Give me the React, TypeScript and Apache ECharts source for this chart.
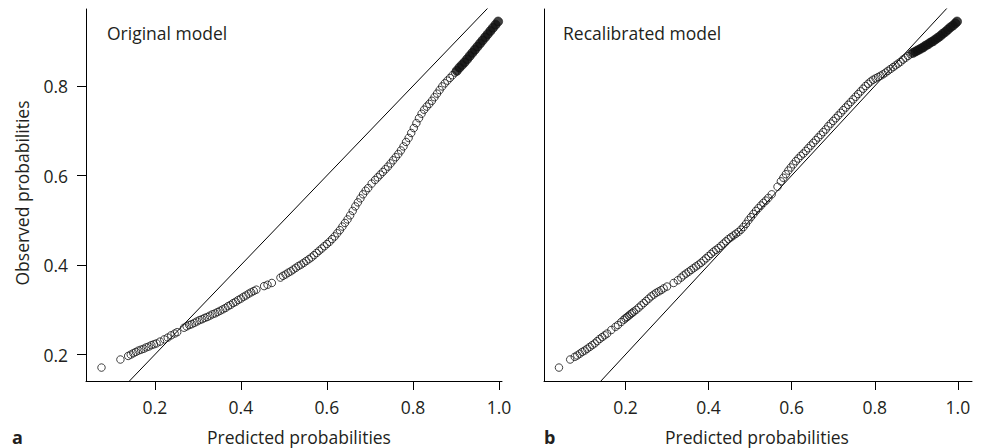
import React, { useEffect, useRef } from "react";
import * as echarts from "echarts";

// ---- data ----
const xTicks = [0.2, 0.4, 0.6, 0.8, 1.0];
const yTicks = [0.2, 0.4, 0.6, 0.8];
const diagonal = [[0.0, 0.0], [1.1, 1.1]];

const originalOpen: number[][] = [
  [0.076, 0.171], [0.120, 0.189], [0.138, 0.197], [0.144, 0.200], [0.150, 0.203], [0.156, 0.206],
  [0.162, 0.209], [0.168, 0.211], [0.174, 0.213], [0.180, 0.216], [0.186, 0.218], [0.192, 0.221],
  [0.198, 0.223], [0.204, 0.225], [0.212, 0.229], [0.222, 0.234], [0.230, 0.238], [0.238, 0.243],
  [0.246, 0.247], [0.252, 0.250], [0.268, 0.260], [0.274, 0.263], [0.280, 0.266], [0.286, 0.268],
  [0.292, 0.271], [0.298, 0.274], [0.304, 0.277], [0.310, 0.279], [0.316, 0.282], [0.322, 0.284],
  [0.328, 0.287], [0.334, 0.290], [0.340, 0.292], [0.346, 0.295], [0.352, 0.298], [0.358, 0.301],
  [0.364, 0.304], [0.370, 0.308], [0.376, 0.311], [0.382, 0.315], [0.388, 0.318], [0.394, 0.322],
  [0.400, 0.325], [0.406, 0.329], [0.412, 0.332], [0.418, 0.336], [0.424, 0.339], [0.430, 0.342],
  [0.436, 0.345], [0.454, 0.353], [0.462, 0.356], [0.472, 0.360], [0.492, 0.372], [0.498, 0.376],
  [0.504, 0.379], [0.510, 0.383], [0.516, 0.386], [0.522, 0.390], [0.528, 0.394], [0.534, 0.398],
  [0.540, 0.401], [0.546, 0.405], [0.552, 0.409], [0.558, 0.413], [0.564, 0.417], [0.570, 0.422],
  [0.576, 0.427], [0.582, 0.432], [0.588, 0.437], [0.594, 0.442], [0.600, 0.447], [0.606, 0.452],
  [0.612, 0.458], [0.618, 0.464], [0.624, 0.471], [0.630, 0.478], [0.636, 0.486], [0.642, 0.494],
  [0.648, 0.502], [0.654, 0.511], [0.660, 0.521], [0.666, 0.531], [0.672, 0.540], [0.678, 0.549],
  [0.684, 0.558], [0.690, 0.566], [0.696, 0.572], [0.704, 0.582], [0.712, 0.590], [0.718, 0.596],
  [0.724, 0.602], [0.730, 0.608], [0.736, 0.614], [0.742, 0.620], [0.748, 0.627], [0.754, 0.634],
  [0.760, 0.641], [0.766, 0.648], [0.772, 0.656], [0.778, 0.665], [0.784, 0.675], [0.790, 0.684],
  [0.796, 0.695], [0.802, 0.706], [0.808, 0.717], [0.814, 0.728], [0.820, 0.738], [0.826, 0.747],
  [0.832, 0.754], [0.838, 0.760], [0.844, 0.767], [0.850, 0.775], [0.856, 0.783], [0.862, 0.791],
  [0.868, 0.799], [0.874, 0.806], [0.880, 0.812], [0.886, 0.818], [0.892, 0.824], [0.898, 0.830],
];

const originalFilled: number[][] = [
  [0.902, 0.834], [0.908, 0.841], [0.914, 0.847], [0.920, 0.853], [0.926, 0.860], [0.932, 0.867],
  [0.938, 0.874], [0.944, 0.881], [0.950, 0.888], [0.956, 0.895], [0.962, 0.902], [0.968, 0.909],
  [0.974, 0.916], [0.980, 0.923], [0.986, 0.930], [0.992, 0.937], [0.998, 0.944],
];

const recalOpen: number[][] = [
  [0.040, 0.171], [0.067, 0.189], [0.078, 0.195], [0.084, 0.198], [0.090, 0.202], [0.096, 0.206],
  [0.102, 0.209], [0.108, 0.213], [0.114, 0.217], [0.120, 0.221], [0.126, 0.225], [0.132, 0.230],
  [0.138, 0.235], [0.144, 0.239], [0.150, 0.243], [0.156, 0.247], [0.166, 0.255], [0.176, 0.262],
  [0.182, 0.266], [0.190, 0.273], [0.196, 0.278], [0.200, 0.281], [0.204, 0.284], [0.208, 0.287],
  [0.212, 0.290], [0.216, 0.293], [0.220, 0.296], [0.226, 0.300], [0.232, 0.305], [0.238, 0.310],
  [0.244, 0.315], [0.250, 0.320], [0.256, 0.325], [0.262, 0.330], [0.268, 0.334], [0.274, 0.338],
  [0.280, 0.341], [0.286, 0.344], [0.292, 0.348], [0.300, 0.352], [0.316, 0.360], [0.326, 0.366],
  [0.334, 0.372], [0.340, 0.377], [0.346, 0.381], [0.352, 0.385], [0.358, 0.389], [0.364, 0.393],
  [0.370, 0.397], [0.376, 0.401], [0.382, 0.405], [0.388, 0.410], [0.394, 0.415], [0.400, 0.420],
  [0.406, 0.425], [0.412, 0.430], [0.418, 0.434], [0.424, 0.438], [0.430, 0.443], [0.436, 0.448],
  [0.442, 0.453], [0.448, 0.458], [0.454, 0.462], [0.460, 0.466], [0.466, 0.470], [0.472, 0.474],
  [0.478, 0.479], [0.484, 0.485], [0.490, 0.492], [0.496, 0.500], [0.502, 0.507], [0.508, 0.514],
  [0.514, 0.521], [0.520, 0.527], [0.526, 0.533], [0.532, 0.539], [0.538, 0.544], [0.544, 0.550],
  [0.552, 0.558], [0.566, 0.575], [0.574, 0.587], [0.580, 0.595], [0.586, 0.603], [0.592, 0.611],
  [0.598, 0.618], [0.604, 0.625], [0.610, 0.632], [0.616, 0.638], [0.622, 0.644], [0.628, 0.649],
  [0.634, 0.655], [0.640, 0.661], [0.646, 0.667], [0.652, 0.673], [0.658, 0.679], [0.664, 0.685],
  [0.670, 0.691], [0.676, 0.697], [0.682, 0.703], [0.688, 0.710], [0.694, 0.716], [0.700, 0.722],
  [0.706, 0.728], [0.712, 0.734], [0.718, 0.740], [0.724, 0.746], [0.730, 0.752], [0.736, 0.758],
  [0.742, 0.764], [0.748, 0.770], [0.754, 0.776], [0.760, 0.782], [0.766, 0.788], [0.772, 0.794],
  [0.778, 0.800], [0.784, 0.805], [0.790, 0.810], [0.796, 0.814], [0.802, 0.817], [0.808, 0.820],
  [0.814, 0.823], [0.820, 0.826], [0.826, 0.830], [0.832, 0.834], [0.838, 0.838], [0.844, 0.842],
  [0.850, 0.846], [0.856, 0.850], [0.862, 0.854], [0.868, 0.859], [0.874, 0.863], [0.880, 0.867],
  [0.886, 0.871],
];

const recalFilled: number[][] = [
  [0.892, 0.874], [0.898, 0.877], [0.904, 0.880], [0.910, 0.883], [0.916, 0.886], [0.922, 0.890],
  [0.928, 0.893], [0.934, 0.897], [0.940, 0.900], [0.946, 0.904], [0.952, 0.908], [0.958, 0.912],
  [0.964, 0.917], [0.970, 0.921], [0.976, 0.926], [0.982, 0.931], [0.988, 0.935], [0.994, 0.940],
  [0.998, 0.944],
];

const panelTitles = ["Original model", "Recalibrated model"];
const panelLetters = ["a", "b"];
const xTitle = "Predicted probabilities";
const yTitle = "Observed probabilities";

const FONT = '"Open Sans", "Noto Sans", sans-serif';
const TXT = "#231f20";
const FS = 17.5;

export default function App() {
  const ref = useRef<HTMLDivElement>(null);
  useEffect(() => {
    if (!ref.current) return;
    const chart = echarts.init(ref.current, undefined, { renderer: "svg" });

    const xAxisBase = (gridIndex: number, min: number, max: number) => ({
      gridIndex,
      type: "value",
      min,
      max,
      axisLine: { show: true, onZero: false, lineStyle: { color: "#000", width: 1 } },
      axisTick: { show: true, customValues: xTicks, length: 9, inside: false, lineStyle: { color: "#000", width: 1 } },
      axisLabel: {
        show: true,
        customValues: xTicks,
        formatter: (v: number) => v.toFixed(1),
        margin: 17,
        fontSize: FS,
        fontFamily: FONT,
        color: TXT,
      },
      splitLine: { show: false },
    });

    const scatterOpen = (idx: number, data: number[][]) => ({
      type: "scatter",
      xAxisIndex: idx,
      yAxisIndex: idx,
      data,
      symbol: "circle",
      symbolSize: 7.5,
      itemStyle: { color: "rgba(0,0,0,0)", borderColor: "#111", borderWidth: 1 },
      silent: true,
      z: 3,
    });
    const scatterFilled = (idx: number, data: number[][]) => ({
      type: "scatter",
      xAxisIndex: idx,
      yAxisIndex: idx,
      data,
      symbol: "circle",
      symbolSize: 9,
      itemStyle: { color: "#111", borderColor: "#111", borderWidth: 0.8 },
      silent: true,
      z: 3,
    });
    const diag = (idx: number) => ({
      type: "line",
      xAxisIndex: idx,
      yAxisIndex: idx,
      data: diagonal,
      symbol: "none",
      clip: true,
      lineStyle: { color: "#000", width: 1 },
      silent: true,
      z: 2,
    });

    const txt = (x: number, y: number, text: string, align: string, extra: any = {}) => ({
      type: "text",
      x,
      y,
      ...extra,
      style: { text, fontSize: FS, fontFamily: FONT, fill: TXT, align, verticalAlign: "middle", ...(extra.style || {}) },
    });

    chart.setOption({
      animation: false,
      backgroundColor: "#fff",
      grid: [
        { left: 86, right: 482, top: 9, bottom: 67, containLabel: false, outerBoundsMode: "none" },
        { left: 544, right: 12, top: 9, bottom: 67, containLabel: false, outerBoundsMode: "none" },
      ],
      xAxis: [xAxisBase(0, 0.04, 1.007), xAxisBase(1, 0.004, 1.034)],
      yAxis: [
        {
          gridIndex: 0,
          type: "value",
          min: 0.141,
          max: 0.972,
          axisLine: { show: true, onZero: false, lineStyle: { color: "#000", width: 1 } },
          axisTick: { show: true, customValues: yTicks, length: 9, inside: false, lineStyle: { color: "#000", width: 1 } },
          axisLabel: {
            show: true,
            customValues: yTicks,
            formatter: (v: number) => v.toFixed(1),
            margin: 18,
            fontSize: FS,
            fontFamily: FONT,
            color: TXT,
          },
          splitLine: { show: false },
        },
        {
          gridIndex: 1,
          type: "value",
          min: 0.141,
          max: 0.972,
          axisLine: { show: true, onZero: false, lineStyle: { color: "#000", width: 1 } },
          axisTick: { show: false },
          axisLabel: { show: false },
          splitLine: { show: false },
        },
      ],
      series: [
        diag(0),
        scatterOpen(0, originalOpen),
        scatterFilled(0, originalFilled),
        diag(1),
        scatterOpen(1, recalOpen),
        scatterFilled(1, recalFilled),
      ],
      graphic: [
        txt(107, 33, panelTitles[0], "left"),
        txt(563, 33, panelTitles[1], "left"),
        txt(299, 437, xTitle, "center"),
        txt(757, 437, xTitle, "center"),
        txt(22, 193, yTitle, "center", { rotation: Math.PI / 2 }),
        txt(12, 437, panelLetters[0], "left", { style: { fontSize: 18, fontWeight: "bold" } }),
        txt(544, 437, panelLetters[1], "left", { style: { fontSize: 18, fontWeight: "bold" } }),
      ],
    });

    return () => chart.dispose();
  }, []);

  return (
    <div
      ref={ref}
      style={{ position: "absolute", left: 0, top: 0, width: 984, height: 448, background: "#fff" }}
    />
  );
}
